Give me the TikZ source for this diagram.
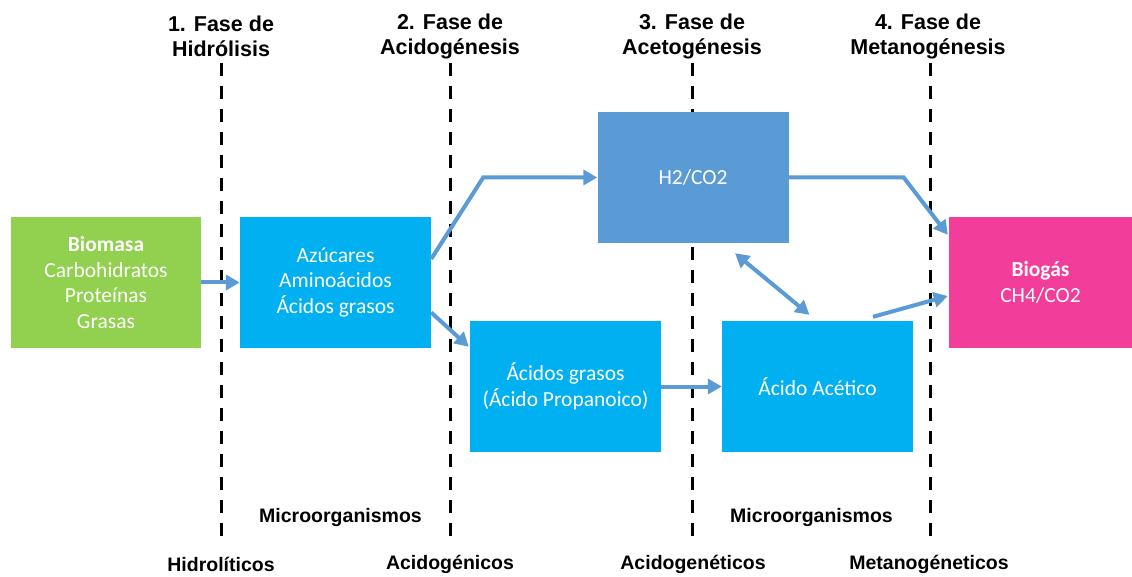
\documentclass[tikz,border=0pt]{standalone}
\usepackage{fontspec}
\setmainfont{Carlito}
\newfontfamily\arialf{Liberation Sans}
\usetikzlibrary{arrows.meta,calc}
\definecolor{cgreen}{HTML}{92D050}
\definecolor{ccyan}{HTML}{00B0F0}
\definecolor{cblue}{HTML}{5B9BD5}
\definecolor{cpink}{HTML}{F33D9B}
\begin{document}
\begin{tikzpicture}[x=1pt,y=-1pt,
  box/.style={fill=#1, text=white, minimum width=191pt, minimum height=131pt, inner sep=0pt, align=center, font=\fontsize{21.5}{25.5}\selectfont},
  head/.style={font=\arialf\bfseries\fontsize{21.5}{25}\selectfont, align=center, inner sep=0pt},
  foot/.style={font=\arialf\bfseries\fontsize{19.5}{23}\selectfont, inner sep=0pt},
  phase/.style={line width=3pt, dash pattern=on 13pt off 10pt},
  flow/.style={draw=cblue, line width=4pt, -{Triangle[length=14pt,width=15pt]}},
  bflow/.style={draw=cblue, line width=4pt, {Triangle[length=14pt,width=15pt]}-{Triangle[length=14pt,width=15pt]}}]
\useasboundingbox (0,0) rectangle (1132,577);
% phase separators
\foreach \x in {221,450,692,930}{
  \draw[phase] (\x,63) -- (\x,540);
}
% headers
\node[head] (h1) at (221,36) {1. Fase de\\Hidrólisis};
\node[head] (h2t) at (450,36) {2. Fase de\\Acidogénesis};
\node[head] (h3) at (692,36) {3. Fase de\\Acetogénesis};
\node[head] (h4) at (928,36) {4. Fase de\\Metanogénesis};
% boxes
\node[box=cgreen, minimum width=190pt] (bio) at (106,282.5) {\textbf{Biomasa}\\Carbohidratos\\Proteínas\\Grasas};
\node[box=ccyan] (azu) at (335.5,282.5) {Azúcares\\Aminoácidos\\Ácidos grasos};
\node[box=cblue] (h2) at (693,177.5) {H2/CO2};
\node[box=ccyan] (aci) at (565.5,386.5) {Ácidos grasos\\(Ácido Propanoico)};
\node[box=ccyan] (ace) at (817.5,386.5) {Ácido Acético};
\node[box=cpink, minimum width=183pt] (gas) at (1040.5,282.5) {\textbf{Biogás}\\CH4/CO2};
% arrows
\draw[flow] (bio.east) -- (azu.west);
\draw[flow] ([yshift=23.5pt]azu.east) -- ($(azu.east |- h2.west)+(52,0)$) -- (h2.west);
\draw[flow] ([yshift=-30pt]azu.east) -- ([xshift=-1pt,yshift=-26pt]aci.north west);
\draw[flow] (h2.east) -- ($(h2.east)+(115,0)$) -- ([xshift=-1pt,yshift=-18pt]gas.north west);
\draw[flow] (aci.east) -- (ace.west);
\draw[bflow] ([xshift=42pt,yshift=-10pt]h2.south) -- ([xshift=-8pt,yshift=6pt]ace.north);
\draw[flow] ([xshift=55.5pt,yshift=4pt]ace.north) -- ([xshift=-1pt,yshift=-13.5pt]gas.west);
% bottom labels
\node[foot] (m1) at (340.5,517) {Microorganismos};
\node[foot] (m2) at (811.5,517) {Microorganismos};
\node[foot] (f1) at (221,564) {Hidrolíticos};
\node[foot] (f2) at (450,564) {Acidogénicos};
\node[foot] (f3) at (693,564) {Acidogenéticos};
\node[foot] (f4) at (929,564) {Metanogéneticos};
\end{tikzpicture}
\end{document}
